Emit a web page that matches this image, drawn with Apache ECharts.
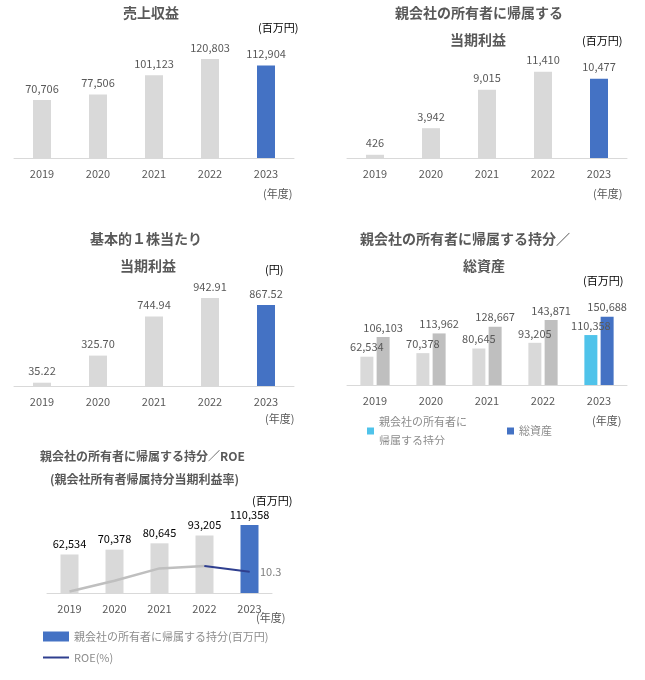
<!DOCTYPE html>
<html>
<head>
<meta charset="utf-8">
<script src="https://cdn.jsdelivr.net/npm/echarts@6/dist/echarts.min.js"></script>
<style>
body{margin:0;background:#fff;width:645px;height:680px;position:relative;overflow:hidden}
.c{position:absolute}
</style>
</head>
<body>
<div id="c1" class="c" style="left:0;top:0;width:320px;height:205px"></div>
<div id="c2" class="c" style="left:320px;top:0;width:325px;height:205px"></div>
<div id="c3" class="c" style="left:0;top:220px;width:320px;height:205px"></div>
<div id="c4" class="c" style="left:320px;top:220px;width:325px;height:225px"></div>
<div id="c5" class="c" style="left:0;top:440px;width:330px;height:240px"></div>
<script>
var years = ['2019','2020','2021','2022','2023'];
var revenue = [70706, 77506, 101123, 120803, 112904];
var profit = [426, 3942, 9015, 11410, 10477];
var eps = [35.22, 325.70, 744.94, 942.91, 867.52];
var equity = [62534, 70378, 80645, 93205, 110358];
var assets = [106103, 113962, 128667, 143871, 150688];
var roe = [0.7, 5.9, 11.9, 13.1, 10.3];

var FONT = '"Noto Sans CJK JP", sans-serif';
var GRAY = '#d9d9d9', BLUE = '#4472c4', TXT = '#595959';

function fmt(v){ return v.toLocaleString('en-US'); }
function colored(arr, last){
	return arr.map(function(v,i){ return {value:v, itemStyle:{color: i==4 ? last : GRAY}}; });
}
function xAxis(){
	return {type:'category', data:years, axisTick:{show:false},
		axisLine:{lineStyle:{color:GRAY}},
		axisLabel:{color:TXT, fontSize:11, fontFamily:FONT, margin:10}};
}

function simpleChart(id, data, max, labelFmt, titles, unit, opts){
	var ch = echarts.init(document.getElementById(id));
	var g = [];
	titles.forEach(function(t){ g.push({type:'text', left:t[0], top:t[1], style:{text:t[2], fill:TXT, fontSize:14, fontWeight:'bold', fontFamily:FONT}}); });
	g.push({type:'text', left:unit[0], top:unit[1], style:{text:unit[2], fill:'#000', fontSize:11, fontFamily:FONT}});
	g.push({type:'text', left:opts.nendoX, top:opts.nendoY, style:{text:'(年度)', fill:TXT, fontSize:11, fontFamily:FONT}});
	ch.setOption({
		animation:false,
		grid:{left:opts.left, right:opts.right, top:40, bottom:opts.bottom},
		xAxis:xAxis(),
		yAxis:{type:'value', min:0, max:max, show:false, splitLine:{show:false}},
		graphic:g,
		series:[{type:'bar', barWidth:18, data:colored(data, BLUE),
			label:{show:true, position:'top', distance:6, color:TXT, fontSize:11, fontFamily:FONT, formatter:function(p){return labelFmt(p.value);}}}]
	});
}

simpleChart('c1', revenue, 144000, fmt, [[123,6,'売上収益']], [258,22,'(百万円)'],
	{left:14, right:26, bottom:47, nendoX:263, nendoY:188});
simpleChart('c2', profit, 15600, fmt, [[75,6,'親会社の所有者に帰属する'],[130,33,'当期利益']], [262,35,'(百万円)'],
	{left:27, right:18, bottom:47, nendoX:273, nendoY:188});
simpleChart('c3', eps, 1350, function(v){return v.toFixed(2);}, [[90,12,'基本的１株当たり'],[120,39,'当期利益']], [265,44,'(円)'],
	{left:14, right:26, bottom:39, nendoX:265, nendoY:193});

// chart 4
(function(){
	var ch = echarts.init(document.getElementById('c4'));
	var lab = {show:true, position:'top', distance:4, color:TXT, fontSize:11, fontFamily:FONT, formatter:function(p){return fmt(p.value);}};
	ch.setOption({
		animation:false,
		grid:{left:27, right:18, top:60, bottom:60},
		xAxis:xAxis(),
		yAxis:{type:'value', min:0, max:232000, show:false},
		legend:{left:42, top:190, itemWidth:7, itemHeight:7, itemGap:40, icon:'rect', align:'left',
			textStyle:{color:'#8c8c8c', fontSize:11, fontFamily:FONT, lineHeight:19, verticalAlign:'top', padding:[-6,0,0,0]},
			data:['親会社の所有者に\n帰属する持分','総資産']},
		graphic:[
			{type:'text', left:40, top:12, style:{text:'親会社の所有者に帰属する持分／', fill:TXT, fontSize:14, fontWeight:'bold', fontFamily:FONT}},
			{type:'text', left:143, top:39, style:{text:'総資産', fill:TXT, fontSize:14, fontWeight:'bold', fontFamily:FONT}},
			{type:'text', left:263, top:55, style:{text:'(百万円)', fill:'#000', fontSize:11, fontFamily:FONT}},
			{type:'text', left:272, top:195, style:{text:'(年度)', fill:TXT, fontSize:11, fontFamily:FONT}}
		],
		series:[
			{name:'親会社の所有者に\n帰属する持分', type:'bar', barWidth:13, barGap:'25%', itemStyle:{color:'#4fc3ea'},
				data:colored(equity,'#4fc3ea'), label:lab},
			{name:'総資産', type:'bar', barWidth:13, itemStyle:{color:BLUE},
				data:assets.map(function(v,i){return {value:v, itemStyle:{color:i==4?BLUE:'#bfbfbf'}};}), label:lab}
		]
	});
})();

// chart 5
(function(){
	var ch = echarts.init(document.getElementById('c5'));
	var grayLine = roe.map(function(v,i){return i<=3 ? v : null;});
	var navyLine = roe.map(function(v,i){return i>=3 ? v : null;});
	ch.setOption({
		animation:false,
		grid:{left:47, right:58, top:60, bottom:87},
		xAxis:xAxis(),
		yAxis:[{type:'value', min:0, max:151000, show:false},{type:'value', min:0, max:45, show:false}],
		legend:{orient:'vertical', left:38, top:186, itemGap:10, itemWidth:26, itemHeight:10,
			textStyle:{color:'#8c8c8c', fontSize:11, fontFamily:FONT},
			data:[{name:'親会社の所有者に帰属する持分(百万円)', icon:'rect'},
				{name:'ROE(%)', icon:'path://M0,4L26,4L26,6L0,6Z'}]},
		graphic:[
			{type:'text', left:40, top:10, style:{text:'親会社の所有者に帰属する持分／ROE', fill:TXT, fontSize:12, fontWeight:'bold', fontFamily:FONT}},
			{type:'text', left:50, top:33, style:{text:'(親会社所有者帰属持分当期利益率)', fill:TXT, fontSize:12, fontWeight:'bold', fontFamily:FONT}},
			{type:'text', left:252, top:55, style:{text:'(百万円)', fill:'#000', fontSize:11, fontFamily:FONT}},
			{type:'text', left:256, top:172, style:{text:'(年度)', fill:TXT, fontSize:11, fontFamily:FONT}}
		],
		series:[
			{name:'親会社の所有者に帰属する持分(百万円)', type:'bar', barWidth:18, itemStyle:{color:BLUE},
				data:colored(equity, BLUE),
				label:{show:true, position:'top', distance:5, color:'#000', fontSize:11, fontFamily:FONT, formatter:function(p){return fmt(p.value);}}},
			{name:'ROE-gray', type:'line', yAxisIndex:1, data:grayLine, symbol:'circle', symbolSize:1, showSymbol:true,
				itemStyle:{color:'#bfbfbf', opacity:0}, lineStyle:{color:'#bfbfbf', width:2.5}, z:3,
				label:{show:true, position:'top', distance:12, color:'#7f7f7f', fontSize:11, fontFamily:FONT, formatter:function(p){return p.value.toFixed(1);}}},
			{name:'ROE(%)', type:'line', yAxisIndex:1, data:navyLine, symbol:'circle', symbolSize:1, showSymbol:true,
				lineStyle:{color:'#2f3f8f', width:2}, itemStyle:{color:'#2f3f8f'}, z:4,
				label:{show:true, position:'right', distance:10, color:'#7f7f7f', fontSize:11, fontFamily:FONT,
					formatter:function(p){return p.dataIndex==4 ? p.value.toFixed(1) : '';}}}
		]
	});
})();
</script>
</body>
</html>
